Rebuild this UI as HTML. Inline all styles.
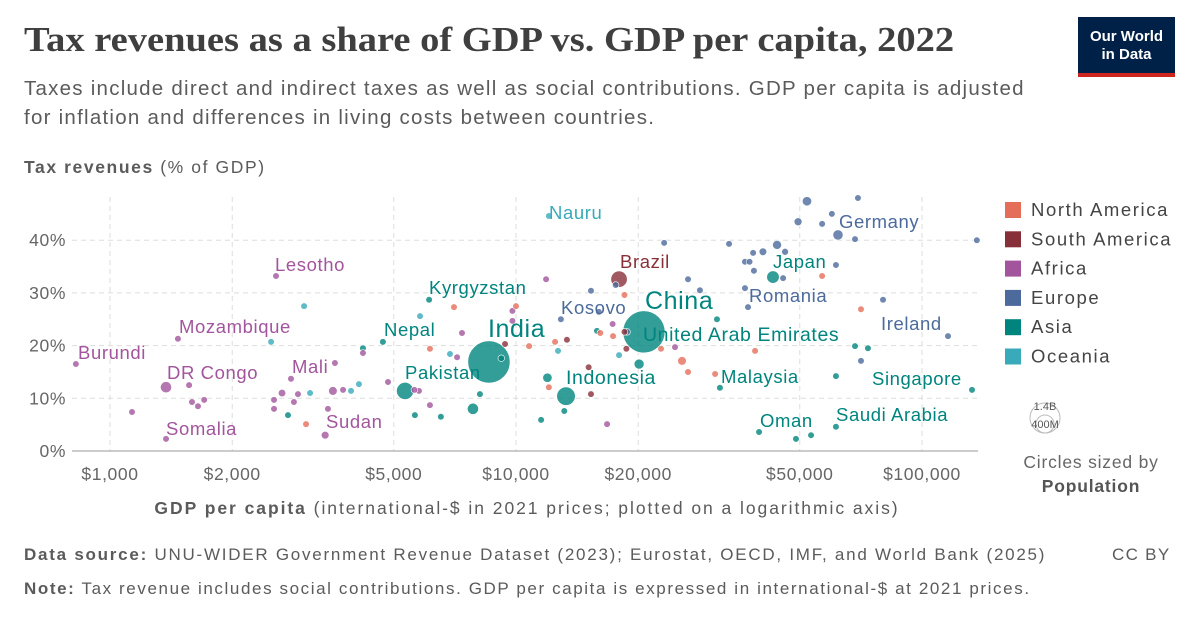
<!DOCTYPE html>
<html><head><meta charset="utf-8">
<style>
body{margin:0;width:1200px;height:627px;background:#fff;font-family:"Liberation Sans",sans-serif;overflow:hidden;position:relative}
.t{position:absolute;white-space:nowrap}
</style></head><body>
<div class="t" style="left:24px;top:20px;font-family:'Liberation Serif',serif;font-size:35px;font-weight:bold;color:#3f3f3f;transform-origin:0 0;transform:scaleX(1.10)">Tax revenues as a share of GDP vs. GDP per capita, 2022</div>
<div class="t" style="left:24px;top:74px;font-size:20.5px;letter-spacing:1.25px;line-height:29px;color:#5b5b5b">Taxes include direct and indirect taxes as well as social contributions. GDP per capita is adjusted<br>for inflation and differences in living costs between countries.</div>
<div style="position:absolute;left:1078px;top:17px;width:97px;height:60px;background:#002147;border-bottom:4px solid #ce261e;box-sizing:border-box;color:#fff;font-size:15px;font-weight:bold;text-align:center;line-height:18px;padding-top:11px">Our World<br>in Data</div>
<svg id="chart" width="1200" height="627" style="position:absolute;left:0;top:0"></svg>
<div class="t" style="left:24px;top:545px;font-size:17px;letter-spacing:1.75px;color:#5b5b5b"><b>Data source:</b> UNU-WIDER Government Revenue Dataset (2023); Eurostat, OECD, IMF, and World Bank (2025)</div>
<div class="t" style="left:1112px;top:545px;font-size:17px;letter-spacing:1.3px;color:#5b5b5b">CC BY</div>
<div class="t" style="left:24px;top:579px;font-size:17px;letter-spacing:1.6px;color:#5b5b5b"><b>Note:</b> Tax revenue includes social contributions. GDP per capita is expressed in international-$ at 2021 prices.</div>
<script>
const xTicks=[1000,2000,5000,10000,20000,50000,100000];
const xTickLabels=["$1,000","$2,000","$5,000","$10,000","$20,000","$50,000","$100,000"];
const yTicks=[0,10,20,30,40];
const yTickLabels=["0%","10%","20%","30%","40%"];
const regions=["North America","South America","Africa","Europe","Asia","Oceania"];
const regionColors=["#e56e5a","#883039","#a2559c","#4c6a9c","#00847e","#38aaba"];
// gdp, tax %, region index, population (millions)
const gdp=[824,1374,1374,1133,1470,1566,1592,1647,1706,2564,3006,2493,2535,2535,2653,2744,2791,2838,2904,3110,3040,3581,3540,3388,3442,3750,3924,4104,4198,4198,4701,4839,5330,5636,5620,5768,5803,6109,6138,6531,6138,7035,6877,7160,7362,7834,8150,8577,9397,9200,10000,9800,9800,
12050,23170,33480,52080,69540,49520,56750,59980,62100,68390,136500,43950,40570,38370,36640,37600,38550,46000,45490,42950,61380,56750,36640,37280,80170,70750,115900,68390,73600,70750,61380,132800,61380,53300,48930,39690,38800,31260,31790,30930,28380,26530,26530,25640,24640,22760,20660,18770,18500,18700,17940,17340,17300,18500,17940,17600,20100,15300,15100,12050,11950,13280,13150,11530,16760,12900,15300,16000,11860,10770,12480,13350,12690,15830,16130];
const tax=[16.5,2.3,12.1,7.4,21.3,12.5,9.3,8.5,9.7,33.2,27.5,20.7,9.7,8.0,11.0,6.8,13.7,9.3,10.8,11.0,5.1,16.7,11.4,3.0,8.0,11.6,11.4,12.7,18.6,19.5,20.7,13.1,11.4,6.8,11.6,11.4,25.6,28.7,8.7,6.5,19.4,27.3,18.4,17.8,22.4,8.0,10.8,16.9,20.3,17.6,27.5,26.6,24.7,
44.6,39.5,39.3,47.4,48.0,43.5,43.1,45.0,41.0,40.2,40.0,39.1,37.8,37.6,35.9,35.9,34.2,37.8,32.8,33.0,35.3,33.2,30.9,27.3,28.7,26.9,21.8,19.9,19.5,17.1,14.2,11.6,4.6,3.0,2.3,3.6,19.0,25.0,12.0,14.6,30.5,32.6,15.0,17.1,19.7,19.4,22.6,22.6,22.6,19.4,18.2,21.8,24.1,29.6,32.6,31.5,16.5,10.8,15.9,12.1,13.9,10.4,7.6,5.9,5.1,25.0,30.4,26.4,32.6,19.9,20.7,21.1,19.0,22.8,22.4];
const region=[2,2,2,2,2,2,2,2,2,2,5,5,2,2,2,4,2,2,2,5,0,2,2,2,2,2,5,5,2,4,4,2,4,4,2,2,5,4,2,4,0,0,5,2,2,4,4,4,1,4,0,2,2,
5,3,3,3,3,3,3,3,3,3,3,3,3,3,3,3,3,3,3,4,3,0,3,3,3,0,3,4,4,3,4,4,4,4,4,4,0,4,4,0,3,3,0,0,2,0,4,3,1,1,5,0,2,0,1,3,4,1,1,0,4,4,4,4,2,3,3,3,2,0,0,1,5,4,0];
const pop=[13,17,100,5,33,20,12,10,14,2.3,1,1,10,12,45,8,25,20,20,1,1,23,60,48,15,20,1,1,8,10,30,10,235,10,8,10,1,7,10,35,1,1,1,5,10,100,30,1420,8,5,1,2,3,
0.01,5,6,70,6,50,10,20,84,10,0.6,65,47,20,10,10,10,38,10,124,5,30,10,19,10,5,0.6,6,1,5,5,6,32,5,4,2,1,3,10,34,10,10,10,60,20,5,1410,10,5,6,4,3,2,5,215,4,80,5,10,3,70,275,20,5,3,2,10,5,10,5,10,5,4,10,3];
const X=v=>110+(Math.log10(v)-3)*406;
const Y=v=>451-v*5.27;
const ns="http://www.w3.org/2000/svg";
const svg=document.getElementById('chart');
function mk(tag,attrs,text){const e=document.createElementNS(ns,tag);for(const k in attrs)e.setAttribute(k,attrs[k]);if(text!==undefined)e.textContent=text;svg.appendChild(e);return e;}
yTicks.forEach((t,i)=>{
 if(t>0){const g=mk('line',{x1:72,x2:978,y1:Y(t),y2:Y(t),stroke:'#ddd','stroke-dasharray':'5,4'});
 
 }
 const l=mk('text',{x:66,y:Y(t)+6,'text-anchor':'end','font-size':17.5,'letter-spacing':0.6,fill:'#666'},yTickLabels[i]);
 
 
});
xTicks.forEach((t,i)=>{
 const g=mk('line',{x1:X(t),x2:X(t),y1:197,y2:451,stroke:'#ddd','stroke-dasharray':'5,4'});
 
 
 const l=mk('text',{x:X(t),y:480,'text-anchor':'middle','font-size':17.5,'letter-spacing':0.6,fill:'#666'},xTickLabels[i]);
 
 
});
const ax=mk('line',{x1:72,x2:978,y1:451,y2:451,stroke:'#999'});


const yt=mk('text',{x:24,y:173,'font-size':17.5,'letter-spacing':1.6,fill:'#5b5b5b'});
yt.innerHTML='<tspan font-weight="bold">Tax revenues</tspan> (% of GDP)';


const xt=mk('text',{x:527,y:514,'text-anchor':'middle','font-size':17.5,'letter-spacing':1.95,fill:'#5b5b5b'});
xt.innerHTML='<tspan font-weight="bold">GDP per capita</tspan> (international-$ in 2021 prices; plotted on a logarithmic axis)';


const idx=gdp.map((_,i)=>i).sort((a,b)=>pop[b]-pop[a]);
idx.forEach(i=>{
 const r=Math.max(3.3,0.56*Math.sqrt(pop[i]));
 const c=mk('circle',{cx:X(gdp[i]),cy:Y(tax[i]),r:r,fill:regionColors[region[i]],'fill-opacity':0.8,stroke:'#fff','stroke-width':0.6});
 
 
});
const labels=[["Burundi",78,359,2,18.5],["Somalia",166,435,2,18.5],["DR Congo",167,379,2,18.5],["Mozambique",179,333,2,18.5],["Lesotho",275,271,2,18.5],["Mali",292,373,2,18.5],["Sudan",326,428,2,18.5],["Kyrgyzstan",429,294,4,18.5],["Nepal",384,336,4,18.5],["Pakistan",405,379,4,18.5],["India",488,337,4,25],["Nauru",549,219,5,18.5],["Brazil",620,268,1,18.5],["Kosovo",561,314,3,18.5],["China",645,309,4,25],["United Arab Emirates",643,341,4,19.5],["Indonesia",566,384,4,19.5],["Malaysia",721,383,4,18.5],["Oman",760,427,4,18.5],["Saudi Arabia",836,421,4,18.5],["Singapore",872,385,4,18.5],["Japan",773,268,4,18.5],["Romania",749,302,3,18.5],["Germany",839,228,3,18.5],["Ireland",881,330,3,18.5]];
labels.forEach(l=>{
 const t=mk('text',{x:l[1],y:l[2],'font-size':l[4],'letter-spacing':0.6,fill:regionColors[l[3]]},l[0]);
 
 
});
regions.forEach((r,i)=>{
 const y=210+i*29.3;
 const s=mk('rect',{x:1005,y:y-8,width:16,height:16,fill:regionColors[i]});
 
 
 const t=mk('text',{x:1031,y:y+6,'font-size':18.5,'letter-spacing':1.6,fill:'#444'},r);
 
 
});
const c1=mk('circle',{cx:1045,cy:418,r:15,fill:'none',stroke:'#bbb'});


const c2=mk('circle',{cx:1045,cy:424,r:9,fill:'none',stroke:'#bbb'});


const s1=mk('text',{x:1045,y:410,'text-anchor':'middle','font-size':11,fill:'#555'},'1.4B');


const s2=mk('text',{x:1045,y:428,'text-anchor':'middle','font-size':11,fill:'#555'},'400M');


const s3=mk('text',{x:1091,y:468,'text-anchor':'middle','font-size':17.5,'letter-spacing':0.8,fill:'#666'},'Circles sized by');


const s4=mk('text',{x:1091,y:492,'text-anchor':'middle','font-size':17.5,'letter-spacing':0.8,'font-weight':'bold',fill:'#555'},'Population');


</script>
</body></html>
